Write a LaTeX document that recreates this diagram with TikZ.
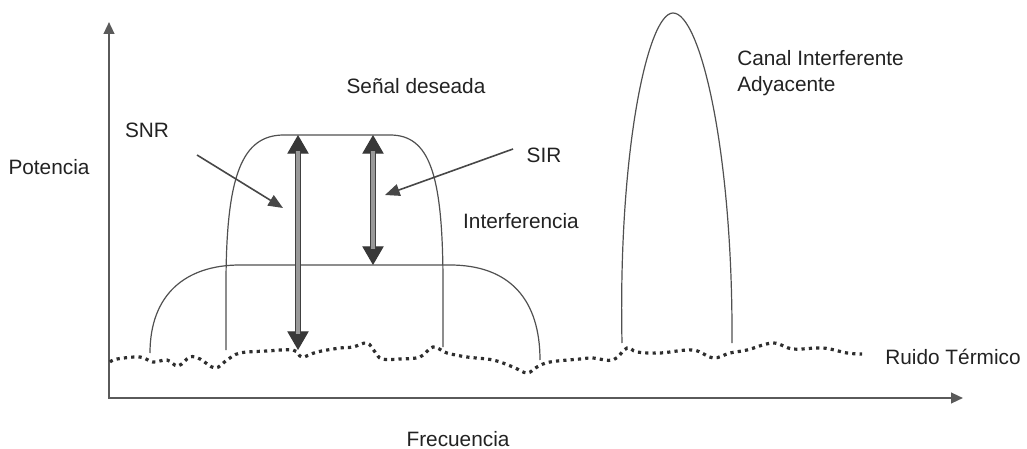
\documentclass[tikz,border=0pt]{standalone}
\usepackage{fontspec}
\setmainfont{Liberation Sans}
\usetikzlibrary{calc}
\usetikzlibrary{positioning}
\usetikzlibrary{arrows.meta}

\definecolor{curvegray}{HTML}{505050}
\definecolor{axisgray}{HTML}{5A5A5A}
\definecolor{textgray}{HTML}{222222}

\begin{document}
\begin{tikzpicture}[%
  x=0.75pt, y=-0.75pt,
  >={Triangle[length=9pt,width=8pt]},
  axis/.style={draw=axisgray, line width=1.6pt},
  curve/.style={draw=curvegray, line width=0.9pt},
  ratiotips/.style={draw=black!78, line width=0.9pt,
    {Triangle[length=14pt,width=16pt]}-{Triangle[length=14pt,width=16pt]}},
  ratio/.style={draw=black!75, line width=0.9pt, double=black!40, double distance=2.6pt,
    shorten <=12pt, shorten >=12pt},
  pointer/.style={draw=black!72, line width=1.2pt, -{Triangle[length=11pt,width=9pt]}},
  noise/.style={draw=black!82, line width=2.4pt, dash pattern=on 2.4pt off 3.1pt},
  label/.style={inner sep=0pt, text=textgray, font=\fontsize{15.6}{19.5}\selectfont},
]

  \useasboundingbox (0,0) rectangle (1027,449);

  \coordinate (origin) at (109,398);
  \coordinate (ytop) at (109,22);
  \coordinate (xend) at (963,398);

  \draw[axis,<->] (ytop) -- (origin) -- (xend);

  % ruido termico
  \draw[noise] plot[smooth, tension=0.6] coordinates {
    (110,362) (117,359) (140,357) (153,362) (167,360) (178,366) (190,357)
    (200,359) (215,368) (227,360) (240,353) (267,351) (293,350) (302,357)
    (317,352) (340,348) (353,347) (367,343) (375,352) (382,359) (400,359)
    (420,357) (433,347) (447,353) (467,357) (493,360) (513,367) (527,373)
    (537,367) (550,362) (580,359) (593,358) (613,360) (627,348) (637,352)
    (660,353) (693,350) (713,358) (730,353) (747,350) (773,343) (793,349)
    (823,348) (847,353) (862,354)};

  % senal deseada
  \draw[curve] (226,350) -- (226,285) .. controls (226,175) and (242,135) .. (284,135)
    -- (390,135) .. controls (430,135) and (443,175) .. (443,285) -- (443,347);

  % interferencia
  \draw[curve] (150,353) .. controls (150,295) and (185,265) .. (240,265)
    -- (450,265) .. controls (510,265) and (540,300) .. (540,360);

  % canal adyacente
  \draw[curve] (622,343) .. controls (618,150) and (648,13) .. (673,13)
    .. controls (700,13) and (733,150) .. (732,343);

  \coordinate (snrtop) at (298,135);
  \coordinate (snrbot) at (298,350);
  \coordinate (sirtop) at (373,135);
  \coordinate (sirbot) at (373,265);
  \draw[ratiotips] (snrtop) -- (snrbot);
  \draw[ratiotips] (sirtop) -- (sirbot);
  \draw[ratio] (snrtop) -- (snrbot);
  \draw[ratio] (sirtop) -- (sirbot);

  \node[label] (potencia) at (49,167) {Potencia};
  \node[label] (frecuencia) at (458,439) {Frecuencia};
  \node[label] (senal) at (416,86) {Señal deseada};
  \node[label] (snr) at (147,130) {SNR};
  \node[label] (sir) at (544,155) {SIR};
  \node[label] (interf) at (521,221) {Interferencia};
  \node[label, align=left, anchor=west] (canal) at (737,73) {Canal Interferente\\Adyacente};
  \node[label] (ruido) at (953,357) {Ruido Térmico};

  \coordinate (snrtail) at (197,155);
  \coordinate (snrhead) at (283,208);
  \coordinate (sirtail) at (513,149);
  \coordinate (sirhead) at (385,195);
  \draw[pointer] (snrtail) -- (snrhead);
  \draw[pointer] (sirtail) -- (sirhead);

\end{tikzpicture}
\end{document}
